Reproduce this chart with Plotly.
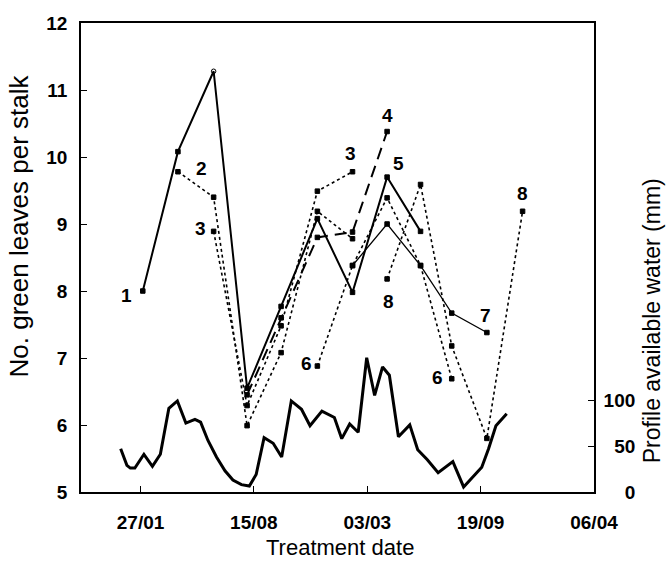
import plotly.graph_objects as go

# Treatment dates (two-monthly) and green-leaf counts for each treatment sequence
treat_dates = ["1990-01-31", "1990-04-03", "1990-06-05", "1990-08-03", "1990-10-02",
               "1990-12-05", "1991-02-05", "1991-04-07", "1991-06-05", "1991-07-30",
               "1991-09-30", "1991-12-02"]

seq1 = [8.0, 10.08, 11.28, 6.55, 7.77, 9.08, 7.98, 9.70, 8.89]
seq2 = [9.78, 9.40, 5.99, 7.08, 9.19, 8.78]
seq3 = [8.89, 6.29, 7.48, 9.49, 9.78]
seq4 = [6.45, 7.60, 8.80, 8.88, 10.38]
seq6 = [6.88, 8.38, 9.39, 8.38, 6.69]
seq7 = [8.38, 9.00, 8.38, 7.67, 7.38]
seq8 = [8.18, 9.59, 7.18, 5.80, 9.19]

# Profile available water (mm)
water_dates = ["1989-12-23", "1990-01-03", "1990-01-09", "1990-01-17", "1990-02-02",
               "1990-02-17", "1990-03-03", "1990-03-18", "1990-04-02", "1990-04-17",
               "1990-05-03", "1990-05-13", "1990-05-26", "1990-06-10", "1990-06-25",
               "1990-07-09", "1990-07-24", "1990-08-07", "1990-08-19", "1990-09-02",
               "1990-09-18", "1990-10-03", "1990-10-20", "1990-11-07", "1990-11-22",
               "1990-12-13", "1991-01-04", "1991-01-17", "1991-01-31", "1991-02-15",
               "1991-03-02", "1991-03-16", "1991-03-30", "1991-04-11", "1991-04-27",
               "1991-05-17", "1991-05-31", "1991-06-17", "1991-07-06", "1991-08-01",
               "1991-08-20", "1991-09-05", "1991-09-21", "1991-10-03", "1991-10-16",
               "1991-11-04"]
water_mm = [47, 29, 26, 26, 41, 28, 41, 91, 99, 75,
            79, 76, 56, 38, 23, 13, 8, 6.5, 19, 59,
            53, 38, 99, 90, 72, 88, 81, 58, 74, 65,
            146, 105, 136, 127, 60, 73, 46, 35, 21, 33,
            5.5, 16, 27, 47, 72, 85]

x_ticks = ["1990-01-27", "1990-08-15", "1991-03-03", "1991-09-19", "1992-04-06"]
water_ticks = [0, 50, 100]
water_tick_text = ["\u2007\u20070", "\u200750", "100"]

fig = go.Figure()

def add_seq(start, vals, dash, width, special=None):
    dates = treat_dates[start:start + len(vals)]
    symbols = ["square"] * len(vals)
    if special:
        for i, s in special.items():
            symbols[i] = s
    fig.add_trace(go.Scatter(
        x=dates, y=vals, mode="lines+markers",
        line=dict(color="black", width=width, dash=dash),
        marker=dict(symbol=symbols, size=4.5, color="black",
                    line=dict(color="black", width=1)),
        hoverinfo="skip"))

add_seq(0, seq1, "solid", 2.0, {2: "circle-open"})
add_seq(1, seq2, "dot", 1.6)
add_seq(2, seq3, "dot", 1.6)
add_seq(3, seq4, "12px,7px", 2.0)
add_seq(5, seq6, "dot", 1.6)
add_seq(6, seq7, "solid", 1.3)
add_seq(7, seq8, "dot", 1.6)

fig.add_trace(go.Scatter(
    x=water_dates, y=water_mm, mode="lines", yaxis="y2",
    line=dict(color="black", width=3), hoverinfo="skip"))

# Sequence number labels placed beside their start/end points
labels = [
    ("1", treat_dates[0], 8.0, -16, 4),
    ("2", treat_dates[1], 9.78, 24, -3),
    ("3", treat_dates[2], 8.89, -13, -3),
    ("4", treat_dates[7], 10.38, 0, -16),
    ("3", treat_dates[6], 9.78, -2, -18),
    ("5", treat_dates[7], 9.70, 11, -14),
    ("6", treat_dates[5], 6.88, -11, -3),
    ("8", treat_dates[7], 8.18, 1, 23),
    ("6", treat_dates[9], 6.69, -14, -1),
    ("7", treat_dates[10], 7.38, -1, -17),
    ("8", treat_dates[11], 9.19, 0, -18),
]
for txt, xd, yv, dx, dy in labels:
    fig.add_annotation(x=xd, y=yv, text=txt, showarrow=False, xshift=dx, yshift=-dy,
                       font=dict(family="Liberation Sans, Arial", size=19, color="black",
                                 weight="bold"))

axis_font = dict(family="Liberation Sans, Arial", size=19, color="black", weight="bold")

fig.update_layout(
    width=668, height=563,
    margin=dict(l=81, r=74, t=23, b=71),
    paper_bgcolor="white", plot_bgcolor="white",
    showlegend=False,
    xaxis=dict(type="date", range=["1989-10-14", "1992-04-06"],
               tickvals=x_ticks, tickformat="%d/%m",
               ticks="inside", ticklen=6, tickcolor="black", tickwidth=1.2,
               showline=True, linecolor="black", linewidth=1.6, mirror=True,
               showgrid=False, zeroline=False, tickfont=axis_font,
               ticklabelstandoff=12),
    yaxis=dict(range=[5, 12], dtick=1,
               ticks="inside", ticklen=6, tickcolor="black", tickwidth=1.2,
               showline=True, linecolor="black", linewidth=1.6, mirror=True,
               showgrid=False, zeroline=False, tickfont=axis_font,
               ticklabelstandoff=8),
    yaxis2=dict(range=[0, 510], overlaying="y", side="right",
                tickvals=water_ticks, ticktext=water_tick_text,
                ticks="inside", ticklen=6, tickcolor="black", tickwidth=1.2,
                showline=True, linecolor="black", linewidth=1.6,
                showgrid=False, zeroline=False, tickfont=axis_font,
                ticklabelstandoff=4),
)

fig.add_annotation(text="No. green leaves per stalk", xref="paper", yref="paper",
                   x=-0.12, y=0.567, textangle=-90, showarrow=False,
                   xanchor="center", yanchor="middle",
                   font=dict(family="Liberation Sans, Arial", size=26, color="black"))
fig.add_annotation(text="Profile available water (mm)", xref="paper", yref="paper",
                   x=1.112, y=0.365, textangle=-90, showarrow=False,
                   xanchor="center", yanchor="middle",
                   font=dict(family="Liberation Sans, Arial", size=23, color="black"))
fig.add_annotation(text="Treatment date", xref="paper", yref="paper",
                   x=0.5045, y=-0.119, showarrow=False,
                   xanchor="center", yanchor="middle",
                   font=dict(family="Liberation Sans, Arial", size=22, color="black"))

fig.write_html("out.html")
